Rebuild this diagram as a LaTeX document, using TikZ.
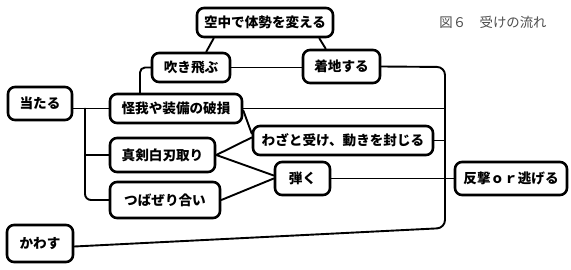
\documentclass[tikz,border=0pt]{standalone}
\usepackage{fontspec}
\usetikzlibrary{backgrounds}
\newfontfamily\jp{Noto Sans CJK JP}
\tikzset{
  box/.style={draw, line width=2.6pt, rounded corners=7pt, font=\jp\bfseries\fontsize{13.6}{15}\selectfont, inner sep=0pt, fill=white},
  link/.style={line width=1.9pt, line cap=round, line join=round},
}
\begin{document}
\begin{tikzpicture}[x=1pt,y=-1pt]
\useasboundingbox (0,0) rectangle (571,270);
% nodes
\node[box, minimum width=136pt, minimum height=29pt] (kuchu) at (265,22.5) {空中で体勢を変える};
\node[box, minimum width=78pt, minimum height=29pt] (fuki) at (191,67.5) {吹き飛ぶ};
\node[box, minimum width=77pt, minimum height=33pt] (chaku) at (341.5,66.5) {着地する};
\node[box, minimum width=64pt, minimum height=33pt] (ataru) at (40,103.5) {当たる};
\node[box, minimum width=132pt, minimum height=29pt] (kega) at (176,108.5) {怪我や装備の破損};
\node[box, minimum width=180pt, minimum height=29pt] (waza) at (343,140.5) {わざと受け、動きを封じる};
\node[box, minimum width=105pt, minimum height=34pt] (shinken) at (162.5,155) {真剣白刃取り};
\node[box, minimum width=110pt, minimum height=36pt] (tsuba) at (165,200) {つばぜり合い};
\node[box, minimum width=55pt, minimum height=33pt] (hajiku) at (302.5,178.5) {弾く};
\node[box, minimum width=112pt, minimum height=33pt] (hangeki) at (511,178.5) {反撃ｏｒ逃げる};
\node[box, minimum width=66pt, minimum height=37pt] (kawasu) at (40,243.5) {かわす};
\node[font=\jp\fontsize{13.4}{15}\selectfont, text=black!70, inner sep=0pt] (title) at (493,22) {図６　受けの流れ};
% coordinates
\coordinate (j1) at (85,108.5);
\coordinate (rt) at (445,67);
\coordinate (rb) at (445,228);
% connectors
\begin{pgfonlayer}{background}
\draw[link] (ataru.east |- kega.west) -- (kega.west);
\draw[link, rounded corners=6pt] (j1) -- (j1 |- tsuba.west) -- (tsuba.west);
\draw[link] (j1 |- shinken.west) -- (shinken.west);
\draw[link, rounded corners=5pt] ([xshift=-36pt]kega.north) |- (fuki.west);
\draw[link] (fuki.east) -- (chaku.west |- fuki.east);
\draw[link] ([xshift=18pt]kuchu.south west) -- ([xshift=-25pt]fuki.north east);
\draw[link] ([xshift=-15pt]kuchu.south east) -- ([xshift=24pt]chaku.north west);
\draw[link, rounded corners=8pt] (chaku.east) -- (rt) -- (rb) -- ([yshift=-3pt]kawasu.east);
\draw[link] (kega.east) -- (kega.east -| rt);
\draw[link] (waza.east) -- (waza.east -| rt);
\draw[link] (hajiku.east) -- (hangeki.west);
\draw[link] ([yshift=-2pt]kega.east) -- ([yshift=7pt]waza.west);
\draw[link] (shinken.east) -- ([yshift=3pt]waza.west);
\draw[link] (shinken.east) -- ([yshift=3pt]hajiku.west);
\draw[link] (tsuba.east) -- (hajiku.west);
\end{pgfonlayer}
\end{tikzpicture}
\end{document}
